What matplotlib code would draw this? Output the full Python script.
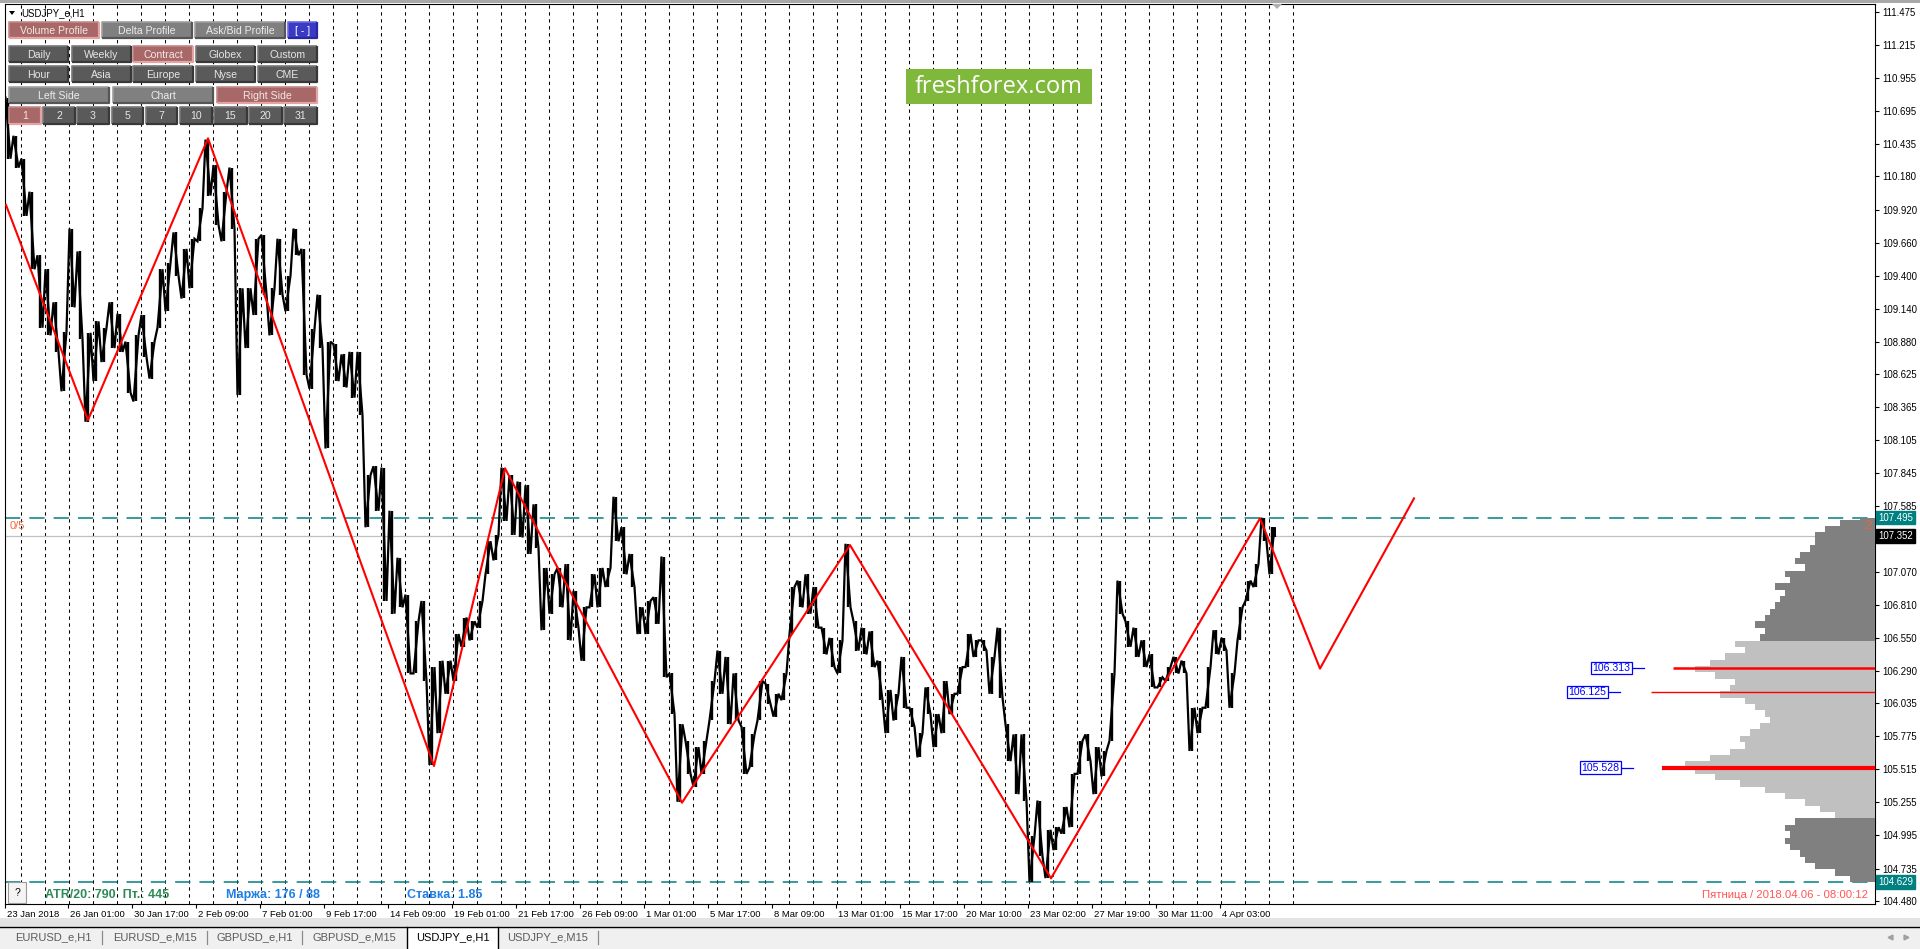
import numpy as np
import matplotlib
matplotlib.use("Agg")
import matplotlib.pyplot as plt
import matplotlib.transforms as mtransforms
from matplotlib.patches import Rectangle, Polygon

plt.rcParams["font.family"] = ["Liberation Sans", "DejaVu Sans"]
plt.rcParams["lines.scale_dashes"] = False

# ---------------- data ----------------
symbol_title = "USDJPY_e,H1"
bars_per_group = 8          # each value pair below summarises 8 hourly bars

group_high = [110.80, 110.50, 110.32, 110.06, 109.56, 109.45, 109.19, 108.96, 109.77, 109.59,
              108.95, 109.04, 108.99, 109.19, 109.10, 108.88, 108.93, 109.09, 108.88, 109.45,
              109.50, 109.74, 109.61, 109.69, 109.93, 110.47, 110.27, 110.06, 110.25, 109.30,
              109.30, 109.69, 109.72, 109.30, 109.69, 109.40, 109.77, 109.61, 108.98, 109.25,
              108.88, 108.86, 108.78, 108.80, 108.80, 107.83, 107.90, 107.89, 107.55, 107.18,
              106.89, 106.68, 106.84, 106.32, 106.37, 106.37, 106.58, 106.71, 106.68, 106.84,
              107.31, 107.36, 107.89, 107.83, 107.78, 107.75, 107.60, 107.10, 107.05, 107.10,
              107.13, 106.92, 106.79, 107.05, 107.10, 107.10, 107.66, 107.42, 107.21, 106.79,
              106.84, 106.87, 107.19, 106.27, 105.87, 105.74, 105.69, 105.74, 106.21, 106.45,
              106.40, 106.27, 105.85, 105.79, 106.21, 106.19, 106.11, 106.27, 106.95, 107.00,
              107.05, 106.95, 106.63, 106.55, 106.53, 107.29, 106.68, 106.63, 106.60, 106.37,
              106.14, 106.11, 106.40, 106.00, 105.80, 106.16, 105.95, 106.21, 106.11, 106.32,
              106.58, 106.53, 106.53, 106.40, 106.63, 105.87, 105.79, 105.79, 104.99, 105.27,
              105.04, 105.06, 105.22, 105.48, 105.74, 105.79, 105.69, 105.66, 106.27, 107.00,
              106.68, 106.63, 106.53, 106.42, 106.24, 106.32, 106.40, 106.37, 106.00, 106.00,
              106.32, 106.61, 106.55, 106.27, 106.79, 107.00, 107.13, 107.495, 107.42]
group_low = [110.32, 110.25, 109.87, 109.45, 108.99, 108.93, 108.80, 108.49, 109.15, 108.90,
             108.25, 108.57, 108.72, 108.83, 108.80, 108.48, 108.41, 108.76, 108.59, 108.99,
             109.12, 109.40, 109.22, 109.30, 109.67, 110.03, 109.80, 109.67, 109.77, 108.46,
             108.83, 109.09, 109.25, 108.93, 109.25, 109.12, 109.56, 108.62, 108.51, 108.83,
             108.04, 108.57, 108.52, 108.44, 108.30, 107.42, 107.55, 106.84, 106.74, 106.79,
             106.27, 106.27, 106.21, 105.55, 105.80, 106.11, 106.21, 106.48, 106.53, 106.63,
             107.05, 107.16, 107.47, 107.36, 107.34, 107.21, 107.26, 106.61, 106.74, 106.79,
             106.53, 106.63, 106.37, 106.79, 106.79, 106.95, 107.31, 107.05, 106.95, 106.58,
             106.58, 106.66, 106.24, 105.95, 105.26, 105.48, 105.38, 105.48, 105.90, 106.11,
             105.87, 105.90, 105.48, 105.53, 105.90, 106.03, 105.93, 106.06, 106.58, 106.79,
             106.74, 106.63, 106.42, 106.32, 106.27, 106.79, 106.45, 106.42, 106.32, 106.06,
             105.80, 105.90, 106.00, 105.85, 105.61, 105.95, 105.69, 105.80, 105.95, 106.11,
             106.32, 106.40, 106.45, 106.11, 106.08, 105.58, 105.32, 105.27, 104.63, 104.83,
             104.66, 104.88, 105.01, 105.06, 105.48, 105.58, 105.32, 105.46, 105.74, 106.74,
             106.48, 106.40, 106.32, 106.16, 106.16, 106.21, 106.27, 106.27, 105.66, 105.80,
             106.00, 106.42, 106.45, 106.00, 106.53, 106.84, 106.95, 107.31, 107.05]
last_price = 107.352
last_bar = 1271

zigzag_bar = [2, 84, 204, 430, 501, 678, 846, 1047, 1256, 1316, 1410]
zigzag_price = [109.956, 108.264, 110.48, 105.542, 107.884, 105.253, 107.28, 104.658,
                107.49, 106.308, 107.647]

profile_high = 107.495
profile_low = 104.629
value_area_high = 106.536
value_area_low = 105.115
profile_bin = 0.05
profile_volume = [25, 40, 60, 70, 75, 85, 90, 85, 90, 80,
                  40, 55, 70, 90, 110, 135, 160, 180, 190, 165,
                  145, 130, 135, 125, 115, 105, 110, 120, 130, 155,
                  145, 140, 160, 180, 165, 150, 130, 140, 115, 110,
                  120, 110, 105, 100, 95, 90, 100, 85, 90, 70,
                  80, 75, 65, 60, 60, 50, 35, 15]

level_prices = [106.313, 106.125, 105.528]
level_start_bar = [1669, 1647, 1658]
level_linewidth = [1.8, 1.0, 3.0]
level_label_bar = [1629, 1605, 1618]

price_ticks = [111.475, 111.215, 110.955, 110.695, 110.435, 110.180, 109.920, 109.660,
               109.400, 109.140, 108.880, 108.625, 108.365, 108.105, 107.845, 107.585,
               107.070, 106.810, 106.550, 106.290, 106.035, 105.775, 105.515, 105.255,
               104.995, 104.735, 104.480]
boxed_prices = [107.495, 107.352, 104.629]
boxed_colors = ["#008080", "#000000", "#008080"]

time_tick_bars = [1, 64, 128, 192, 256, 320, 384, 448, 512, 576, 640, 704, 768, 832,
                  896, 960, 1024, 1088, 1152, 1216]
time_tick_labels = ["23 Jan 2018", "26 Jan 01:00", "30 Jan 17:00", "2 Feb 09:00",
                    "7 Feb 01:00", "9 Feb 17:00", "14 Feb 09:00", "19 Feb 01:00",
                    "21 Feb 17:00", "26 Feb 09:00", "1 Mar 01:00", "5 Mar 17:00",
                    "8 Mar 09:00", "13 Mar 01:00", "15 Mar 17:00", "20 Mar 10:00",
                    "23 Mar 02:00", "27 Mar 19:00", "30 Mar 11:00", "4 Apr 03:00"]
first_day_separator = 16.7
bars_per_day = 24
n_day_separators = 54

info_atr = "ATR/20: 790  Пт.: 445"
info_margin = "Маржа: 176 / 88"
info_rate = "Ставка: 1.85"
server_time = "Пятница / 2018.04.06 - 08:00:12"
tab_names = ["EURUSD_e,H1", "EURUSD_e,M15", "GBPUSD_e,H1", "GBPUSD_e,M15",
             "USDJPY_e,H1", "USDJPY_e,M15"]
active_tab = 4

# ---------------- figure ----------------
W, H = 1920, 949
fig = plt.figure(figsize=(W / 100, H / 100), dpi=100)
fig.patch.set_facecolor("white")


def fx(px):
    return px / W


def fy(py):
    return 1 - py / H


ax = fig.add_axes([fx(5), fy(904), fx(1875) - fx(5), fy(4) - fy(904)])
ax.set_xlim(1, 1871)
ax.set_ylim(104.456, 111.537)
for sp in ax.spines.values():
    sp.set_linewidth(0.8)
    sp.set_color("black")

# day separators
sep_x = first_day_separator + bars_per_day * np.arange(n_day_separators)
for xs in sep_x:
    ax.axvline(xs, color="black", lw=0.75, dashes=(2.4, 2.6), zorder=1)

# horizontal levels
ax.axhline(profile_high, color="#008080", lw=1.1, dashes=(11, 6.5), zorder=2)
ax.axhline(profile_low, color="#008080", lw=1.1, dashes=(11, 6.5), zorder=2)
ax.axhline(last_price, color="#c0c0c0", lw=0.9, zorder=2)

# volume profile (right side, growing leftwards from the right edge)
vol = np.array(profile_volume, dtype=float)
bottoms = profile_low + profile_bin * np.arange(len(vol))
heights = np.minimum(profile_bin, profile_high - bottoms)
centers = bottoms + heights / 2
colors = ["#c0c0c0" if value_area_low <= c <= value_area_high else "#808080" for c in centers]
right_edge = ax.get_xlim()[1]
ax.barh(bottoms, vol, height=heights, left=right_edge - vol, align="edge",
        color=colors, edgecolor="none", zorder=3)

# price bars
gh = np.array(group_high)
gl = np.array(group_low)
gx = bars_per_group * np.arange(len(gh)) + bars_per_group / 2
mid = (gh + gl) / 2
path_x, path_y = [], []
for i in range(len(gh)):
    nxt = mid[i + 1] if i + 1 < len(gh) else last_price
    path_x += [gx[i] - 2.5, gx[i] + 2.5]
    if nxt >= mid[i]:
        path_y += [gl[i], gh[i]]
    else:
        path_y += [gh[i], gl[i]]
path_x.append(last_bar)
path_y.append(last_price)
ax.vlines(gx, gl, gh, color="black", lw=1.7, zorder=4)
ax.plot(path_x, path_y, color="black", lw=1.6, zorder=4, solid_joinstyle="miter")

# zigzag
ax.plot(zigzag_bar, zigzag_price, color="#ff0000", lw=1.5, zorder=5)

# red profile levels with blue labels
for p, xs, lw, lb in zip(level_prices, level_start_bar, level_linewidth, level_label_bar):
    ax.plot([xs, right_edge], [p, p], color="#ff0000", lw=lw, zorder=6, solid_capstyle="butt")
    ax.plot([lb, lb + 11], [p, p], color="#0000ff", lw=0.9, zorder=6)
    ax.text(lb - 2.5, p, f"{p:.3f}", ha="right", va="center", fontsize=7.6, color="#0000ff",
            zorder=7, bbox=dict(boxstyle="square,pad=0.12", fc="white", ec="#0000ff", lw=0.9))

# in-chart small labels
ax.text(6, 107.43, "0/5", color="#f26a3a", fontsize=8, ha="left", va="center", zorder=7)
ax.text(1864, 107.43, "2", color="#e8643c", fontsize=9.5, ha="center", va="center", zorder=7)

# price axis
ax.yaxis.tick_right()
ax.set_yticks(price_ticks)
ax.set_yticklabels([f"{t:.3f}" for t in price_ticks])
ax.tick_params(axis="y", direction="out", length=2.8, width=0.8, pad=2.2, labelsize=6.9,
               colors="black")
for p, c in zip(boxed_prices, boxed_colors):
    ax.annotate(f"{p:.3f}", xy=(1.0, p), xycoords=("axes fraction", "data"),
                xytext=(2.2, 0), textcoords="offset points", ha="left", va="center",
                fontsize=6.9, color="white", zorder=8, annotation_clip=False,
                bbox=dict(boxstyle="square,pad=0.18", fc=c, ec=c))

# time axis
ax.set_xticks(time_tick_bars)
ax.set_xticklabels(time_tick_labels)
ax.tick_params(axis="x", direction="out", length=3, width=0.8, pad=1.5, labelsize=6.8)
offset = mtransforms.ScaledTranslation(1.3 / 72, 0, fig.dpi_scale_trans)
for lbl in ax.get_xticklabels():
    lbl.set_horizontalalignment("left")
    lbl.set_transform(lbl.get_transform() + offset)

# ---------------- overlay (terminal UI) ----------------
ov = fig.add_axes([0, 0, 1, 1])
ov.set_xlim(0, W)
ov.set_ylim(H, 0)
ov.axis("off")
ov.patch.set_visible(False)
ov.set_zorder(10)

ov.add_patch(Rectangle((0, 0), W, 3, fc="#a8a8a8", ec="none"))
ov.add_patch(Polygon([[9, 11], [15, 11], [12, 15]], closed=True, fc="black", ec="none"))
ov.text(21, 13, symbol_title, fontsize=6.9, color="black", ha="left", va="center")

styles = {
    "rose": ("#a86868", "#c48888", "#e4a4a4", "#f4e6e6"),
    "light": ("#808080", "#a0a0a0", "#555555", "#ececec"),
    "dark": ("#5a5a5a", "#787878", "#383838", "#e6e6e6"),
    "blue": ("#3a3ac4", "#6a6ae8", "#2828a0", "#ffffff"),
}


def button(label, x0, x1, y0, y1, style):
    fc, tl, br, tc = styles[style]
    ov.add_patch(Rectangle((x0, y0), x1 - x0, y1 - y0, fc=fc, ec="none"))
    ov.plot([x0, x0, x1], [y1, y0, y0], color=tl, lw=1.2, solid_capstyle="butt")
    ov.plot([x0, x1, x1], [y1, y1, y0], color=br, lw=1.6, solid_capstyle="butt")
    ov.text((x0 + x1) / 2, (y0 + y1) / 2 + 0.5, label, fontsize=7.6, color=tc,
            ha="center", va="center")


button("Volume Profile", 9, 99, 22, 38, "rose")
button("Delta Profile", 102, 192, 22, 38, "light")
button("Ask/Bid Profile", 195, 285, 22, 38, "light")
button("[ - ]", 288, 317, 22, 38, "blue")
row_x = [(9, 68), (72, 131), (133, 193), (196, 255), (258, 317)]
for (x0, x1), lab, st in zip(row_x, ["Daily", "Weekly", "Contract", "Globex", "Custom"],
                             ["dark", "dark", "rose", "dark", "dark"]):
    button(lab, x0, x1, 46, 62, st)
for (x0, x1), lab in zip(row_x, ["Hour", "Asia", "Europe", "Nyse", "CME"]):
    button(lab, x0, x1, 66, 82, "dark")
button("Left Side", 9, 109, 87, 103, "light")
button("Chart", 113, 213, 87, 103, "light")
button("Right Side", 217, 317, 87, 103, "rose")
num_x = [(9, 41), (43, 75), (77, 109), (112, 143), (146, 177), (180, 212), (214, 247),
         (249, 282), (284, 317)]
for (x0, x1), lab in zip(num_x, ["1", "2", "3", "5", "7", "10", "15", "20", "31"]):
    button(lab, x0, x1, 107, 124, "rose" if lab == "1" else "dark")

# watermark
ov.add_patch(Rectangle((906, 69), 186, 35, fc="#7fb83b", ec="none"))
ov.text(999, 86.5, "freshforex.com", fontsize=17, color="white", ha="center", va="center",
        family=["Open Sans", "DejaVu Sans"])

# chart shift marker
ov.add_patch(Polygon([[1272, 4], [1282, 4], [1277, 9]], closed=True, fc="#b0b0b0", ec="none"))

# bottom info line
ov.add_patch(Rectangle((8, 882), 18, 21, fc="#f4f4f4", ec="#9a9a9a", lw=0.8))
ov.text(17, 892.5, "?", fontsize=7.5, color="black", ha="center", va="center")
ov.text(45, 895, info_atr, fontsize=9, fontweight="bold", color="#2e8b57", ha="left", va="center")
ov.text(226, 895, info_margin, fontsize=9, fontweight="bold", color="#1e7fe6", ha="left", va="center")
ov.text(407, 895, info_rate, fontsize=9, fontweight="bold", color="#1e7fe6", ha="left", va="center")
ov.text(1868, 895, server_time, fontsize=8.2, color="#ff5555", ha="right", va="center")

# tab bar
ov.add_patch(Rectangle((0, 918), W, 8, fc="#e4e4e4", ec="none"))
ov.add_patch(Rectangle((0, 926), W, H - 926, fc="#f0f0f0", ec="none"))
ov.plot([0, W], [926.5, 926.5], color="black", lw=1.0)
tab_edges = [4, 102, 207, 302, 407, 498, 598]
for i, name in enumerate(tab_names):
    x0, x1 = tab_edges[i], tab_edges[i + 1]
    if i == active_tab:
        ov.add_patch(Rectangle((x0, 926.5), x1 - x0, H - 927, fc="white", ec="none"))
        ov.plot([x0, x0], [926.5, H], color="black", lw=1.0)
        ov.plot([x1, x1], [926.5, H], color="black", lw=1.0)
        col = "black"
    else:
        col = "#5a5a5a"
        if i + 1 != active_tab:
            ov.plot([x1, x1], [931, 944], color="#8a8a8a", lw=0.9)
    ov.text((x0 + x1) / 2, 937.5, name, fontsize=8, color=col, ha="center", va="center")
ov.plot([1890], [937], marker="<", ms=3.5, color="#a0a0a0")
ov.plot([1906], [937], marker=">", ms=3.5, color="#a0a0a0")

fig.savefig("out.png", dpi=100)
